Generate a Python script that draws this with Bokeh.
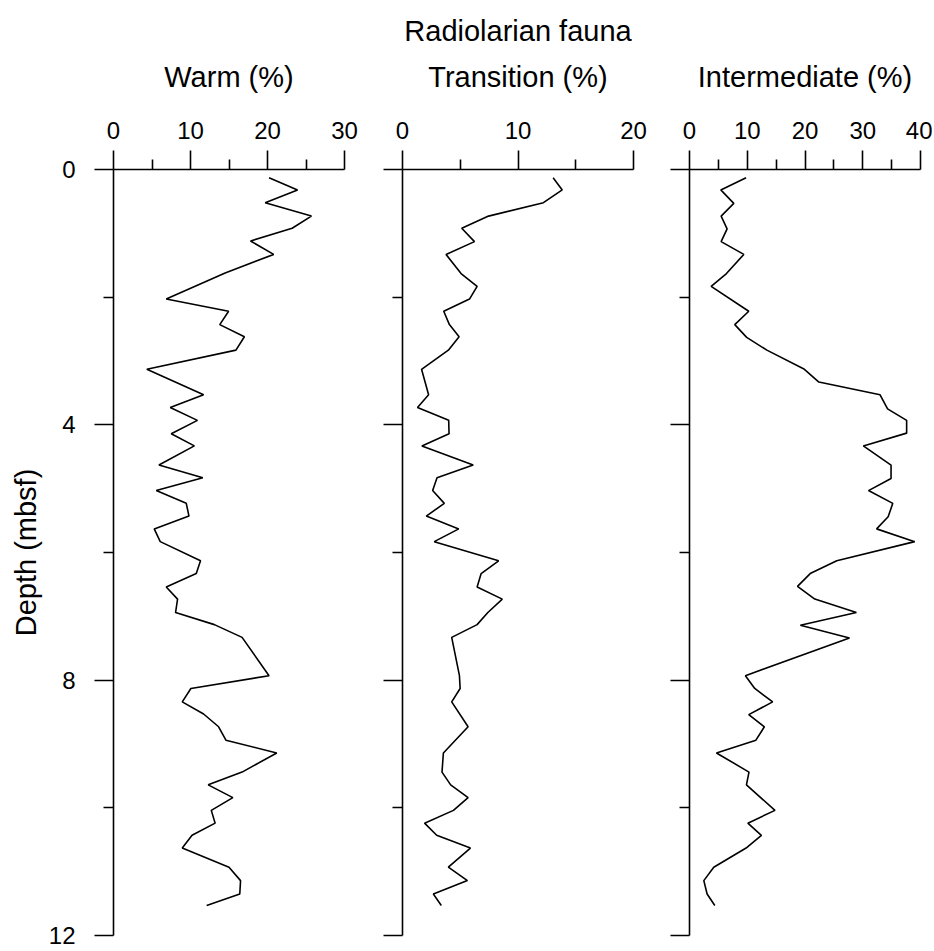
from bokeh.plotting import figure
from bokeh.layouts import row
from bokeh.models import Range1d, FixedTicker, CustomJSTickFormatter
from bokeh.embed import file_html
from bokeh.resources import INLINE

# ---- data ----
depth_warm = [0.13, 0.32, 0.52, 0.73, 0.92, 1.12, 1.33, 1.62, 2.03, 2.22, 2.43, 2.62, 2.83,
              3.13, 3.53, 3.73, 3.93, 4.14, 4.33, 4.63, 4.83, 5.03, 5.23, 5.43, 5.63, 5.83,
              6.13, 6.33, 6.54, 6.73, 6.94, 7.13, 7.33, 7.93, 8.13, 8.34, 8.53, 8.73, 8.94,
              9.14, 9.44, 9.64, 9.84, 10.04, 10.24, 10.43, 10.63, 10.93, 11.14, 11.35, 11.53]
warm = [20.2, 23.9, 19.7, 25.7, 23.2, 17.8, 20.8, 14.5, 6.85, 14.95, 13.8, 17.0, 15.9,
        4.33, 11.7, 7.37, 10.9, 7.5, 10.5, 5.9, 11.6, 5.55, 9.45, 9.8, 5.29, 6.07,
        11.3, 10.75, 6.85, 8.32, 8.06, 13.1, 16.7, 20.2, 10.05, 8.93, 11.7, 13.65, 14.6,
        21.2, 16.7, 12.3, 15.5, 12.7, 13.2, 10.2, 8.93, 15.0, 16.5, 16.4, 12.1]

depth_trans = [0.13, 0.32, 0.52, 0.73, 0.92, 1.13, 1.33, 1.63, 1.83, 2.03, 2.22, 2.43, 2.62,
               2.83, 3.13, 3.53, 3.73, 3.93, 4.14, 4.33, 4.63, 4.83, 5.03, 5.23, 5.43, 5.63,
               5.83, 6.13, 6.33, 6.54, 6.73, 6.94, 7.13, 7.33, 7.93, 8.13, 8.34, 8.73, 9.14,
               9.44, 9.64, 9.84, 10.04, 10.24, 10.43, 10.63, 10.93, 11.14, 11.35, 11.53]
transition = [13.04, 13.83, 12.2, 7.45, 5.13, 6.23, 3.77, 5.07, 6.46, 5.8, 3.57, 4.06, 4.9,
              3.97, 1.65, 2.26, 1.3, 4.0, 4.03, 1.68, 6.12, 2.99, 2.61, 3.62, 2.06, 4.87,
              2.75, 8.32, 6.81, 6.46, 8.64, 7.39, 6.46, 4.26, 4.93, 4.99, 4.26, 5.68, 3.54,
              3.42, 4.17, 5.68, 4.41, 1.91, 2.96, 5.88, 3.97, 5.62, 2.67, 3.36]

depth_inter = [0.13, 0.32, 0.53, 0.73, 0.93, 1.13, 1.33, 1.63, 1.83, 2.22, 2.43, 2.63, 2.83,
               3.13, 3.33, 3.53, 3.75, 3.93, 4.13, 4.33, 4.63, 4.84, 5.03, 5.23, 5.44, 5.63,
               5.83, 6.13, 6.33, 6.53, 6.73, 6.94, 7.14, 7.34, 7.93, 8.13, 8.34, 8.54, 8.73,
               8.94, 9.14, 9.44, 9.64, 10.04, 10.24, 10.43, 10.63, 10.93, 11.14, 11.35, 11.53]
intermediate = [9.8, 5.42, 7.67, 5.48, 6.51, 5.48, 9.4, 6.4, 3.75, 10.26, 7.84, 9.9, 13.4,
                19.9, 22.4, 33.0, 34.3, 37.6, 37.6, 30.1, 34.9, 34.9, 31.0, 35.2, 34.4, 32.4,
                39.0, 25.5, 20.9, 18.7, 21.7, 28.9, 19.2, 27.7, 9.68, 11.3, 14.4, 10.26, 12.97,
                11.5, 4.67, 10.3, 9.86, 14.8, 10.1, 12.45, 9.8, 4.2, 2.48, 3.05, 4.38]

depth_major = [0, 4, 8, 12]
depth_minor = [2, 6, 10]

FONT = "Liberation Sans"


def panel(xmax, xmajor, xminor, label, depth, vals, left, right, ylabels, title=""):
    p = figure(frame_width=231, frame_height=766,
               x_range=Range1d(0, xmax), y_range=Range1d(12, 0),
               x_axis_location="above", y_axis_location="left",
               output_backend="svg", toolbar_location=None,
               min_border_left=left, min_border_right=right,
               min_border_top=169, min_border_bottom=15, title=title)
    p.grid.visible = False
    p.outline_line_color = None
    p.title.text_font = FONT
    p.title.text_font_size = "29px"
    p.title.text_font_style = "normal"
    p.title.text_color = "black"
    p.title.align = "center"
    p.title.standoff = 21

    ax = p.xaxis[0]
    ax.ticker = FixedTicker(ticks=xmajor, minor_ticks=xminor)
    ax.axis_label = label
    ax.axis_label_text_font = FONT
    ax.axis_label_text_font_size = "29px"
    ax.axis_label_text_font_style = "normal"
    ax.axis_label_standoff = 26
    ax.major_label_text_font = FONT
    ax.major_label_text_font_size = "24px"
    ax.major_label_standoff = 12

    ay = p.yaxis[0]
    ay.ticker = FixedTicker(ticks=depth_major, minor_ticks=depth_minor)
    ay.major_label_text_font = FONT
    ay.major_label_text_font_size = "24px"
    ay.major_label_standoff = 19
    if ylabels:
        ay.axis_label = "Depth (mbsf)"
        ay.axis_label_text_font = FONT
        ay.axis_label_text_font_size = "29px"
        ay.axis_label_text_font_style = "normal"
        ay.axis_label_standoff = 4
    else:
        ay.formatter = CustomJSTickFormatter(code="return '';")

    for a in (ax, ay):
        a.axis_line_width = 1.6
        a.axis_line_color = "black"
        a.major_tick_line_width = 1.6
        a.minor_tick_line_width = 1.6
        a.major_tick_line_color = "black"
        a.minor_tick_line_color = "black"
        a.major_tick_in = 0
        a.minor_tick_in = 0
        a.major_tick_out = 19
        a.minor_tick_out = 10
        a.major_label_text_color = "black"
        a.axis_label_text_color = "black"

    p.line(vals, depth, line_color="black", line_width=1.6)
    return p


p1 = panel(30, [0, 10, 20, 30], [5, 15, 25], "Warm (%)", depth_warm, warm, 113, 20, True)
p2 = panel(20, [0, 10, 20], [5, 15], "Transition (%)", depth_trans, transition, 38, 20, False,
           title="Radiolarian fauna")
p3 = panel(40, [0, 10, 20, 30, 40], [5, 15, 25, 35], "Intermediate (%)", depth_inter,
           intermediate, 36, 12, False)

layout = row(p1, p2, p3)
open("out.html", "w").write(file_html(layout, INLINE))
